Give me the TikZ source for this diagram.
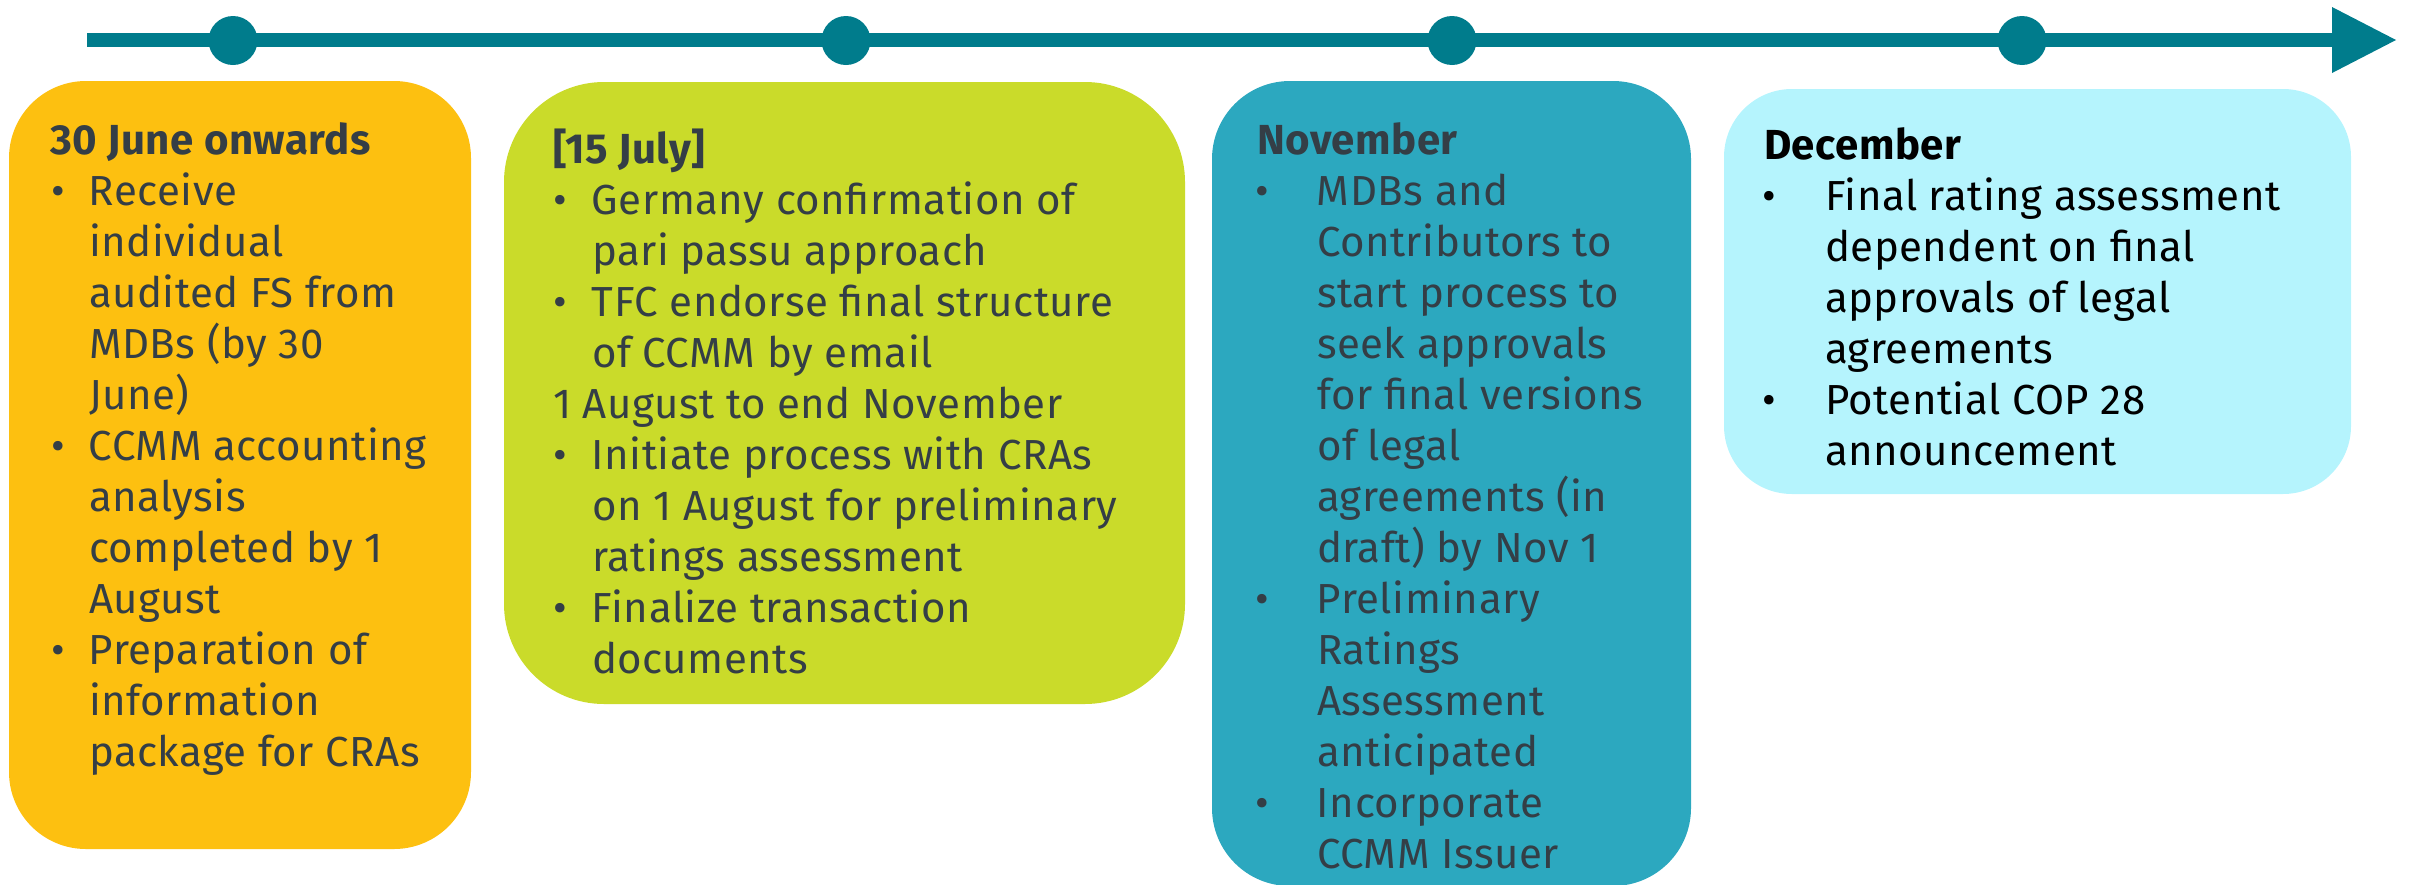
\documentclass[tikz,border=0pt]{standalone}
\usepackage{fontspec}
\setmainfont{Fira Sans}[LetterSpace=1.2]
\usepackage{array}
\definecolor{tl}{HTML}{007C8C}
\definecolor{cA}{HTML}{FDC010}
\definecolor{cB}{HTML}{CADB2A}
\definecolor{cC}{HTML}{2CA8BF}
\definecolor{cD}{HTML}{B5F4FD}
\definecolor{txt}{HTML}{343E46}
\newcommand{\bl}[1]{\hspace*{#1}\makebox[0pt]{\textbullet}}
\tikzset{
  dot/.style={circle, fill=tl, minimum size=49pt, inner sep=0pt},
  boxtext/.style={anchor=base west, inner sep=0pt, outer sep=0pt, text=txt,
    font=\fontsize{42}{51}\selectfont},
}
\begin{document}
\begin{tikzpicture}[x=1pt,y=-1pt]
\useasboundingbox (0,0) rectangle (2412,884);
\clip (0,0) rectangle (2412,884);
% timeline
\coordinate (tstart) at (87,40);
\coordinate (tbase) at (2332,40);
\coordinate (ttip) at (2396,40);
\draw[tl, line width=13.3pt] (tstart) -- (tbase);
\fill[tl] (ttip) -- ([yshift=-33pt]tbase) -- ([yshift=33pt]tbase) -- cycle;
\node[dot] (d1) at (233,40.5) {};
\node[dot] (d2) at (846,40.5) {};
\node[dot] (d3) at (1452,40.5) {};
\node[dot] (d4) at (2022,40.5) {};
% boxes
\fill[cA, rounded corners=77pt] (9,81) rectangle (471,849);
\fill[cB, rounded corners=100pt] (504,82) rectangle (1185,704);
\fill[cC, rounded corners=78pt] (1212,81) rectangle (1691,886);
\fill[cD, rounded corners=68pt] (1724,89) rectangle (2351,494);
% texts
\node[boxtext] (t1) at (50,154) {\begin{tabular}[t]{@{}p{39pt}@{}l@{}}
\multicolumn{2}{@{}l@{}}{\bfseries 30 June onwards}\\
\bl{8pt} & Receive\\
 & individual\\
 & audited FS from\\
 & MDBs (by 30\\
 & June)\\
\bl{8pt} & CCMM accounting\\
 & analysis\\
 & completed by 1\\
 & August\\
\bl{8pt} & Preparation of\\
 & information\\
 & package for CRAs
\end{tabular}};
\node[boxtext] (t2) at (553,163) {\begin{tabular}[t]{@{}p{39pt}@{}l@{}}
\multicolumn{2}{@{}l@{}}{\bfseries [15 July]}\\
\bl{7pt} & Germany confirmation of\\
 & pari passu approach\\
\bl{7pt} & TFC endorse final structure\\
 & of CCMM by email\\
\multicolumn{2}{@{}l@{}}{1 August to end November}\\
\bl{7pt} & Initiate process with CRAs\\
 & on 1 August for preliminary\\
 & ratings assessment\\
\bl{7pt} & Finalize transaction\\
 & documents
\end{tabular}};
\node[boxtext] (t3) at (1257,154) {\begin{tabular}[t]{@{}p{60pt}@{}l@{}}
\multicolumn{2}{@{}l@{}}{\bfseries November}\\
\bl{5pt} & MDBs and\\
 & Contributors to\\
 & start process to\\
 & seek approvals\\
 & for final versions\\
 & of legal\\
 & agreements (in\\
 & draft) by Nov 1\\
\bl{5pt} & Preliminary\\
 & Ratings\\
 & Assessment\\
 & anticipated\\
\bl{5pt} & Incorporate\\
 & CCMM Issuer
\end{tabular}};
\node[boxtext, text=black] (t4) at (1764,159) {\begin{tabular}[t]{@{}p{61pt}@{}l@{}}
\multicolumn{2}{@{}l@{}}{\bfseries December}\\
\bl{5pt} & Final rating assessment\\
 & dependent on final\\
 & approvals of legal\\
 & agreements\\
\bl{5pt} & Potential COP 28\\
 & announcement
\end{tabular}};
\end{tikzpicture}
\end{document}
